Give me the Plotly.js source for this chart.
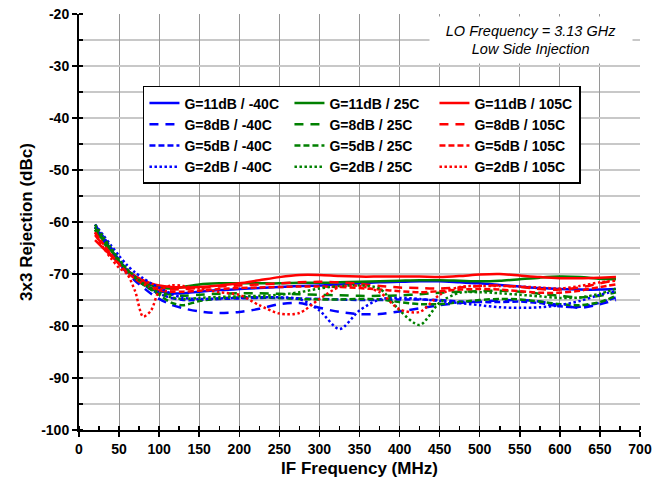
<!DOCTYPE html>
<html>
<head>
<meta charset="utf-8">
<script src="https://cdn.plot.ly/plotly-3.0.1.min.js"></script>
<style>html,body{margin:0;padding:0;background:#fff;}#chart{width:668px;height:481px;}</style>
</head>
<body>
<div id="chart"></div>
<script>
// IF frequency (MHz)
const freq = [20,30,40,50,60,70,80,90,100,115,130,150,175,200,225,250,275,300,325,350,375,400,425,450,475,500,525,550,575,600,625,650,670];

// 3x3 rejection (dBc)
const g11_m40 = [-61.0,-63.2,-65.3,-67.6,-69.3,-70.6,-71.8,-72.7,-73.3,-73.7,-73.7,-73.4,-73.1,-72.9,-72.7,-72.5,-72.3,-72.2,-72.0,-71.8,-71.6,-71.5,-71.4,-71.4,-71.6,-71.8,-72.1,-72.4,-72.7,-72.9,-73.0,-73.0,-72.9];
const g11_25  = [-61.5,-63.5,-65.5,-67.6,-69.2,-70.5,-71.5,-72.2,-72.6,-72.8,-72.5,-72.0,-71.8,-71.8,-71.8,-71.8,-71.7,-71.7,-71.6,-71.5,-71.4,-71.3,-71.2,-71.2,-71.3,-71.4,-71.3,-71.0,-70.7,-70.5,-70.6,-70.9,-71.0];
const g11_105 = [-63.5,-65.0,-66.5,-68.0,-69.3,-70.4,-71.2,-71.8,-72.2,-72.5,-72.6,-72.5,-72.2,-71.8,-71.2,-70.6,-70.2,-70.2,-70.4,-70.5,-70.5,-70.5,-70.5,-70.6,-70.4,-70.1,-70.0,-70.3,-70.6,-70.8,-70.8,-70.7,-70.6];
const g8_m40  = [-61.0,-63.5,-65.8,-68.0,-69.8,-71.3,-72.6,-73.8,-74.8,-75.9,-76.6,-77.2,-77.5,-77.3,-76.7,-75.8,-75.6,-76.5,-77.3,-77.7,-77.7,-77.2,-76.6,-76.0,-75.6,-75.3,-75.1,-75.0,-75.3,-76.0,-76.5,-75.8,-75.0];
const g8_25   = [-61.5,-63.8,-65.8,-67.8,-69.5,-70.9,-72.0,-72.8,-73.4,-74.0,-74.2,-74.0,-73.8,-73.7,-73.7,-73.8,-73.9,-74.0,-74.1,-74.2,-74.2,-74.1,-73.9,-73.6,-73.4,-73.3,-73.2,-73.4,-73.8,-74.2,-74.5,-74.2,-73.5];
const g8_105  = [-62.5,-64.5,-66.3,-68.0,-69.5,-70.7,-71.7,-72.4,-72.8,-73.0,-72.9,-72.7,-72.4,-72.2,-72.0,-71.8,-71.6,-71.5,-71.6,-71.9,-72.3,-72.6,-72.7,-72.8,-72.6,-72.3,-72.2,-72.5,-72.9,-73.0,-72.6,-71.8,-71.2];
const g5_m40  = [-60.5,-62.8,-65.0,-67.3,-69.2,-70.8,-72.0,-73.0,-73.8,-74.6,-75.0,-75.0,-74.8,-74.7,-74.6,-74.6,-74.7,-74.8,-74.9,-75.0,-75.0,-74.9,-74.9,-75.0,-75.3,-75.4,-75.4,-75.3,-75.6,-76.2,-76.3,-75.5,-74.5];
const g5_25   = [-61.0,-63.2,-65.3,-67.5,-69.3,-70.8,-72.0,-73.0,-74.0,-75.5,-76.0,-75.2,-74.7,-74.5,-74.5,-74.6,-74.8,-74.9,-74.9,-74.8,-74.9,-75.4,-75.8,-75.8,-75.4,-75.0,-74.8,-74.9,-75.3,-75.8,-76.0,-75.4,-74.2];
const g5_105  = [-62.0,-64.2,-66.2,-68.1,-69.7,-70.9,-71.9,-72.6,-73.1,-73.4,-73.4,-73.2,-72.9,-72.7,-72.6,-72.5,-72.4,-72.4,-72.5,-72.7,-73.0,-73.3,-73.5,-73.3,-73.0,-72.9,-73.0,-73.3,-73.6,-73.6,-73.2,-72.5,-72.0];
const g2_m40  = [-60.5,-62.5,-64.5,-66.5,-68.3,-69.7,-70.8,-71.8,-72.6,-73.8,-74.6,-74.8,-74.7,-74.6,-74.5,-74.5,-74.8,-77.0,-80.6,-77.0,-74.9,-74.6,-74.8,-75.2,-75.6,-76.0,-76.4,-76.5,-76.4,-76.0,-75.2,-74.0,-73.3];
const g2_25   = [-60.5,-62.8,-65.0,-67.2,-69.0,-70.5,-71.8,-72.8,-73.6,-74.5,-74.8,-74.6,-74.4,-74.3,-74.2,-74.0,-73.5,-72.8,-72.3,-72.2,-72.8,-77.0,-79.8,-75.5,-73.6,-73.5,-73.7,-74.0,-74.3,-74.6,-74.5,-73.8,-72.8];
const g2_105  = [-62.0,-64.8,-67.0,-68.8,-70.0,-73.3,-78.2,-77.0,-73.3,-72.2,-72.3,-72.8,-73.5,-74.0,-76.0,-77.6,-77.5,-74.8,-72.5,-72.3,-73.5,-76.8,-77.3,-74.0,-72.5,-72.3,-72.3,-72.4,-72.6,-72.8,-72.3,-71.6,-71.3];

const names = ['G=11dB / -40C','G=11dB / 25C','G=11dB / 105C',
               'G=8dB / -40C','G=8dB / 25C','G=8dB / 105C',
               'G=5dB / -40C','G=5dB / 25C','G=5dB / 105C',
               'G=2dB / -40C','G=2dB / 25C','G=2dB / 105C'];
const series = [g11_m40,g11_25,g11_105,g8_m40,g8_25,g8_105,g5_m40,g5_25,g5_105,g2_m40,g2_25,g2_105];

// tick labels
const xTickVals = [0,50,100,150,200,250,300,350,400,450,500,550,600,650,700];
const xTickText = ['0','50','100','150','200','250','300','350','400','450','500','550','600','650','700'];
const yTickVals = [-100,-90,-80,-70,-60,-50,-40,-30,-20];
const yTickText = ['-100','-90','-80','-70','-60','-50','-40','-30','-20'];

const colors = ['#0000ff','#008000','#ff0000'];
const dashes = ['solid','9px,7px','6px,3px','2.5px,2.5px'];

const traces = series.map((ys,i)=>({
  x: freq, y: ys, name: names[i], type:'scatter', mode:'lines',
  line:{color:colors[i%3], width:2.5, dash:dashes[Math.floor(i/3)], shape:'spline', smoothing:0.8}
}));

const F = '"Liberation Sans", Arial, sans-serif';
const layout = {
  width:668, height:481,
  margin:{l:79, r:28, t:14, b:51},
  paper_bgcolor:'#fff', plot_bgcolor:'#fff',
  font:{family:F, color:'#000'},
  showlegend:true,
  legend:{orientation:'h', x:0.114, y:0.827, xanchor:'left', yanchor:'top',
    bgcolor:'#fff', bordercolor:'#000', borderwidth:1.5,
    entrywidth:100, entrywidthmode:'pixels', traceorder:'normal',
    font:{family:F, size:14, color:'#000', weight:'bold'}},
  xaxis:{range:[0,700], tickmode:'array', tickvals:xTickVals, ticktext:xTickText,
    showline:true, linecolor:'#000', linewidth:2,
    ticks:'outside', ticklen:5, tickwidth:1.5, tickcolor:'#000',
    showgrid:true, gridcolor:'#969696', gridwidth:1, zeroline:false,
    tickfont:{family:F, size:14, weight:'bold'},
    minor:{dtick:25, tick0:0, ticks:'inside', ticklen:4, tickwidth:1.5, tickcolor:'#000', showgrid:false},
    title:{text:'IF Frequency (MHz)', font:{family:F, size:17, weight:'bold'}, standoff:6}},
  yaxis:{range:[-100,-20], tickmode:'array', tickvals:yTickVals, ticktext:yTickText,
    showline:true, linecolor:'#000', linewidth:2,
    ticks:'outside', ticklen:5, tickwidth:1.5, tickcolor:'#000',
    showgrid:true, gridcolor:'#c8c8c8', gridwidth:1.5, zeroline:false,
    tickfont:{family:F, size:14, weight:'bold'},
    minor:{dtick:5, tick0:-100, ticks:'inside', ticklen:4, tickwidth:1.5, tickcolor:'#000', showgrid:true, gridcolor:'#c8c8c8', gridwidth:1.5},
    title:{text:'3x3 Rejection (dBc)', font:{family:F, size:17, weight:'bold'}, standoff:4}},
  annotations:[{xref:'paper', yref:'paper', x:0.806, y:0.9375, xanchor:'center', yanchor:'middle',
    text:'LO Frequency = 3.13 GHz<br>Low Side Injection', showarrow:false,
    align:'center', bgcolor:'#fff', width:200, height:44,
    font:{family:F, size:14.5, style:'italic', color:'#000'}}]
};

Plotly.newPlot('chart', traces, layout, {staticPlot:true, displayModeBar:false});
</script>
</body>
</html>
